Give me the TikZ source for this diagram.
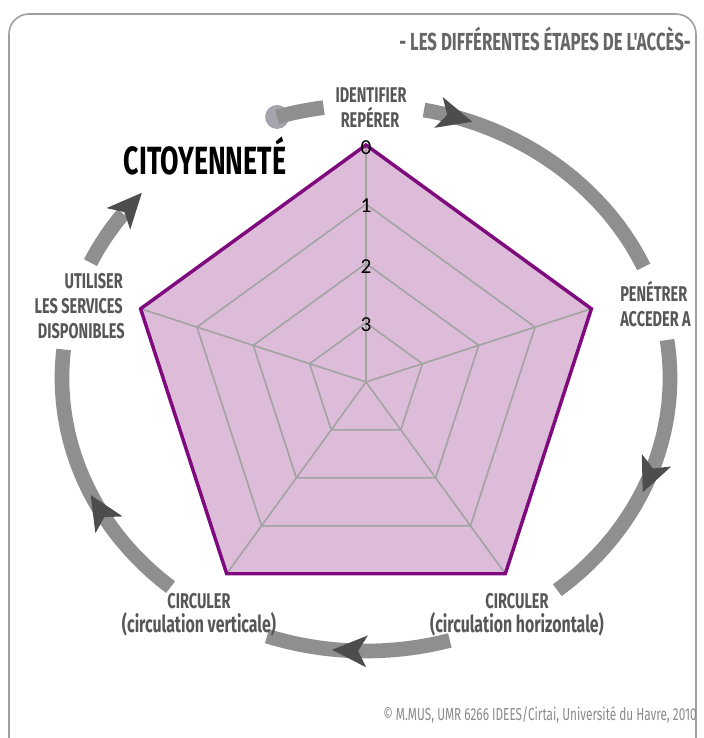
\documentclass[tikz,border=0pt]{standalone}
\usepackage{fontspec}
\setmainfont{Fira Sans}
\newfontfamily\condf[FakeStretch=0.68]{Fira Sans}
\newfontfamily\numf{Carlito}
\definecolor{ringc}{HTML}{8F8F8F}
\definecolor{headc}{HTML}{4D4D4D}
\definecolor{dotc}{HTML}{A4A4AC}
\definecolor{fillc}{HTML}{DCBCD8}
\definecolor{edgec}{HTML}{7E0A7E}
\definecolor{gridc}{HTML}{A3A3A3}
\definecolor{labc}{HTML}{575757}
\definecolor{titc}{HTML}{666666}
\definecolor{copc}{HTML}{8A8A8A}
\definecolor{framec}{HTML}{A0A0A0}
\newcommand{\arrhead}[1]{\fill[headc, shift={({304*cos(#1)},{4+273*sin(#1)})}, rotate={atan2(-273*cos(#1),304*sin(#1))}] (18,0) -- (-17,16) -- (-8,0) -- (-17,-16) -- cycle;}
\newcommand{\ringarc}[2]{\draw[ring] (0,4) ++(#1:304 and 273) arc[start angle=#1, end angle=#2, x radius=304, y radius=273];}
\begin{document}
\begin{tikzpicture}[x=0.75pt,y=0.75pt,
  ring/.style={draw=ringc, line width=11pt},
  gridline/.style={draw=gridc, line width=1.2pt},
  lab/.style={text=labc, font=\condf\bfseries\fontsize{16}{16}\selectfont, inner sep=0pt},
  labsm/.style={text=labc, font=\condf\bfseries\fontsize{17.5}{17.5}\selectfont, inner sep=0pt},
  bigt/.style={text=black, font=\condf\bfseries\fontsize{29.5}{29.5}\selectfont, inner sep=0pt},
  titl/.style={text=titc, font=\condf\bfseries\fontsize{18.5}{18.5}\selectfont, inner sep=0pt},
  copy/.style={text=copc, font=\condf\fontsize{13}{13}\selectfont, inner sep=0pt},
  num/.style={text=black, font=\numf\fontsize{16}{16}\selectfont, inner sep=0pt}]
\useasboundingbox (-366,-356) rectangle (337,382);
\clip (-366,-356) rectangle (337,382);
\fill[white] (-366,-356) rectangle (337,382);
% frame
\draw[framec, line width=1.2pt, rounded corners=15pt] (-357,-420) rectangle (330,368);
% ring
\fill[dotc] (0,4) ++(107:304 and 273) circle[radius=12];
\ringarc{107}{98}
\ringarc{79}{24}
\ringarc{8}{-51}
\ringarc{-74}{-109}
\ringarc{230}{174}
\ringarc{155}{143}
\arrhead{73}
\arrhead{-21}
\arrhead{-93}
\arrhead{209}
\arrhead{141}
% radar
\fill[fillc] (90:237) -- (18:237) -- (-54:237) -- (-126:237) -- (162:237) -- cycle;
\foreach \r in {59.25,118.5,177.75}
  \draw[gridline] (90:\r) -- (18:\r) -- (-54:\r) -- (-126:\r) -- (162:\r) -- cycle;
\foreach \a in {90,18,-54,-126,162}
  \draw[gridline] (0,0) -- (\a:237);
\draw[edgec, line width=2.6pt, line join=miter] (90:237) -- (18:237) -- (-54:237) -- (-126:237) -- (162:237) -- cycle;
\node[num] (n0) at (0,234) {0};
\node[num] (n1) at (0,176) {1};
\node[num] (n2) at (0,115) {2};
\node[num] (n3) at (0,57) {3};
% labels
\node[lab, anchor=base] (id1) at (5,279) {IDENTIFIER};
\node[lab, anchor=base] (id2) at (4,254) {REPÉRER};
\node[bigt, anchor=base] (cit) at (-161,207) {CITOYENNETÉ};
\node[lab, anchor=base east] (u1) at (-243,93) {UTILISER};
\node[lab, anchor=base east] (u2) at (-243,68) {LES SERVICES};
\node[lab, anchor=base east] (u3) at (-241,43) {DISPONIBLES};
\node[lab, anchor=base west] (p1) at (254,80) {PENÉTRER};
\node[lab, anchor=base west] (p2) at (254,55) {ACCEDER A};
\node[lab, anchor=base] (cv1) at (-167,-226) {CIRCULER};
\node[labsm, anchor=base] (cv2) at (-167,-250) {(circulation verticale)};
\node[lab, anchor=base] (ch1) at (151,-226) {CIRCULER};
\node[labsm, anchor=base] (ch2) at (151,-250) {(circulation horizontale)};
\node[titl, anchor=base east] (tit) at (325,331) {- LES DIFFÉRENTES ÉTAPES DE L'ACCÈS-};
\node[copy, anchor=base east] (cop) at (331,-338) {© M.MUS, UMR 6266 IDEES/Cirtai, Université du Havre, 2010};
\end{tikzpicture}
\end{document}
